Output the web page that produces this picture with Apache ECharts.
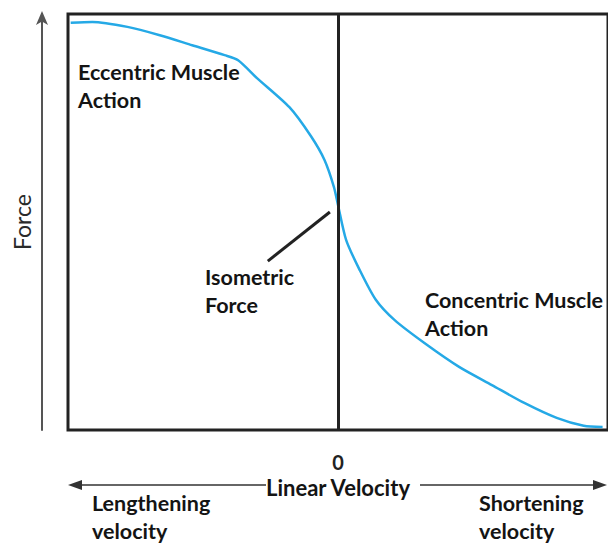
<!DOCTYPE html>
<html>
<head>
<meta charset="utf-8">
<script src="https://cdn.jsdelivr.net/npm/echarts@6/dist/echarts.min.js"></script>
<style>
  html, body { margin: 0; padding: 0; background: #fff; }
  #chart { width: 608px; height: 544px; }
</style>
</head>
<body>
<div id="chart"></div>
<script>
// force-velocity curve, velocity normalised to -1..1, force 0..100
const velocity = [-0.99, -0.91, -0.78, -0.66, -0.54, -0.42, -0.37, -0.30, -0.18, -0.10, -0.05, -0.015,
                  0, 0.03, 0.08, 0.14, 0.21, 0.32, 0.45, 0.57, 0.69, 0.81, 0.91, 0.98];
const force = [97.9, 98.1, 96.9, 94.9, 92.5, 90.1, 88.9, 84.6, 77.6, 70.6, 64.9, 58.4,
               54.1, 45.7, 38.5, 31.3, 26.4, 20.9, 15.1, 10.8, 6.5, 2.9, 1.0, 0.7];
// pointer line for "Isometric Force"
const pointerX = [-0.26, -0.03];
const pointerY = [40.6, 52.4];
const xTicks = [0];

const font = 'Lato, "Open Sans", sans-serif';
const txt = (x, y, text, extra) => Object.assign({
    type: 'text', left: x, top: y,
    style: { text: text, font: 'bold 21.5px ' + font, fill: '#141414', lineHeight: 28 }
}, extra || {});

const chart = echarts.init(document.getElementById('chart'), null, { renderer: 'svg' });
chart.setOption({
    animation: false,
    grid: {
        left: 68, top: 14, width: 546, height: 416,
        show: true, borderColor: '#222', borderWidth: 3, backgroundColor: '#fff'
    },
    xAxis: {
        type: 'value', min: -1, max: 1,
        axisLine: { show: false },
        axisTick: { show: false },
        splitLine: { show: false },
        axisLabel: {
            customValues: xTicks, margin: 22,
            fontFamily: font, fontWeight: 'bold', fontSize: 20, color: '#222'
        },
        name: 'Linear Velocity', nameLocation: 'middle', nameGap: 40,
        nameTextStyle: { fontFamily: font, fontWeight: 'bold', fontSize: 22, color: '#141414' }
    },
    yAxis: {
        type: 'value', min: 0, max: 100, offset: 26,
        axisLine: {
            show: true, onZero: false, symbol: ['none', 'arrow'], symbolSize: [9, 14], symbolOffset: [0, 3],
            lineStyle: { color: '#555', width: 2 }
        },
        axisTick: { show: false },
        axisLabel: { show: false },
        splitLine: { show: false },
        name: 'Force', nameLocation: 'middle', nameGap: 9, nameRotate: 90,
        nameTextStyle: { fontFamily: font, fontSize: 23, color: '#2a2a2a' }
    },
    series: [
        {
            type: 'line', smooth: 0.25, showSymbol: false,
            data: velocity.map((v, i) => [v, force[i]]),
            lineStyle: { color: '#25a9e6', width: 2.5 },
            markLine: {
                silent: true, symbol: 'none', label: { show: false },
                lineStyle: { color: '#222', width: 3, type: 'solid' },
                data: [{ xAxis: 0 }]
            }
        },
        {
            type: 'line', showSymbol: false,
            data: pointerX.map((v, i) => [v, pointerY[i]]),
            lineStyle: { color: '#222', width: 3 }
        }
    ],
    graphic: [
        txt(78, 58, 'Eccentric Muscle\nAction'),
        txt(205, 263, 'Isometric\nForce'),
        txt(425, 286, 'Concentric Muscle\nAction'),
        txt(92, 489, 'Lengthening\nvelocity'),
        txt(479, 489, 'Shortening\nvelocity'),
        { type: 'line', shape: { x1: 266, y1: 485, x2: 74, y2: 485 }, style: { stroke: '#333', lineWidth: 1.5 } },
        { type: 'polygon', shape: { points: [[68, 485], [82, 480], [82, 490]] }, style: { fill: '#333' } },
        { type: 'line', shape: { x1: 420, y1: 485, x2: 598, y2: 485 }, style: { stroke: '#333', lineWidth: 1.5 } },
        { type: 'polygon', shape: { points: [[607, 485], [593, 480], [593, 490]] }, style: { fill: '#333' } }
    ]
});
</script>
</body>
</html>
